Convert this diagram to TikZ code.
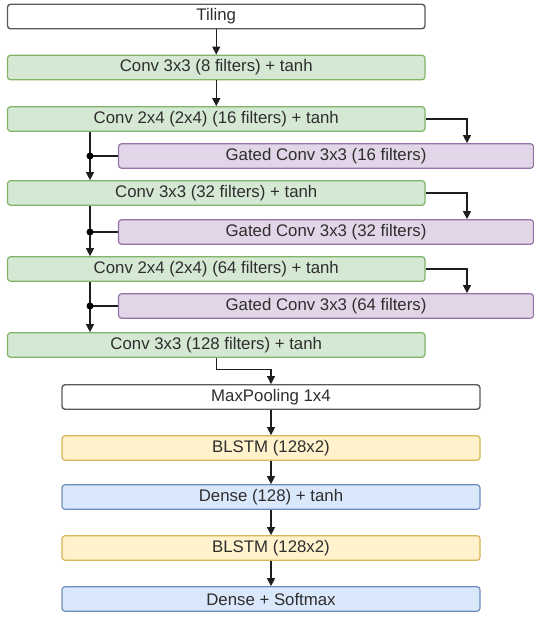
\documentclass[tikz,border=0pt]{standalone}
\usepackage{fontspec}
\setmainfont{Liberation Sans}
\usetikzlibrary{arrows.meta}
\definecolor{txt}{HTML}{2E2E2E}
\definecolor{greenF}{HTML}{D5E8D4}\definecolor{greenD}{HTML}{82B366}
\definecolor{purpF}{HTML}{E1D5E7}\definecolor{purpD}{HTML}{9673A6}
\definecolor{yelF}{HTML}{FFF2CC}\definecolor{yelD}{HTML}{D6B656}
\definecolor{bluF}{HTML}{DAE8FC}\definecolor{bluD}{HTML}{6C8EBF}
\definecolor{edge}{HTML}{1E1E1E}
\definecolor{frame}{HTML}{5A5A5A}
\tikzset{
  layer/.style={rounded corners=3pt, line width=1.2pt, text=txt,
    font=\fontsize{16.8}{19}\selectfont, inner sep=0pt, minimum height=24.5pt},
  plainbox/.style={layer, draw=frame, fill=white, line width=1.4pt},
  convbox/.style={layer, draw=greenD, fill=greenF, minimum width=417.5pt},
  gatedbox/.style={layer, draw=purpD, fill=purpF, minimum width=415pt},
  lstmbox/.style={layer, draw=yelD, fill=yelF, minimum width=418pt},
  densebox/.style={layer, draw=bluD, fill=bluF, minimum width=418pt},
  arr/.style={draw=edge, line width=1.2pt, -{Triangle[length=8pt,width=8pt]}},
  link/.style={draw=edge, line width=1.2pt},
  joint/.style={circle, fill=black, inner sep=0pt, minimum size=7pt},
}
\begin{document}
\begin{tikzpicture}[x=1pt, y=-1pt]
\useasboundingbox (0,0) rectangle (534,617);

% convolutional stack
\node[plainbox, minimum width=417.5pt] (til) at (216.25,16.5) {Tiling};
\node[convbox] (c8)   at (216.25,67.5)  {Conv 3x3 (8 filters) + tanh};
\node[convbox] (c16)  at (216.25,119)   {Conv 2x4 (2x4) (16 filters) + tanh};
\node[gatedbox] (g16) at (326,156)      {Gated Conv 3x3 (16 filters)};
\node[convbox] (c32)  at (216.25,193)   {Conv 3x3 (32 filters) + tanh};
\node[gatedbox] (g32) at (326,232)      {Gated Conv 3x3 (32 filters)};
\node[convbox] (c64)  at (216.25,269)   {Conv 2x4 (2x4) (64 filters) + tanh};
\node[gatedbox] (g64) at (326,306)      {Gated Conv 3x3 (64 filters)};
\node[convbox] (c128) at (216.25,345)   {Conv 3x3 (128 filters) + tanh};

% recurrent head
\node[plainbox, minimum width=418pt] (mp) at (271,397) {MaxPooling 1x4};
\node[lstmbox]  (bl1) at (271,448) {BLSTM (128x2)};
\node[densebox] (d1)  at (271,497) {Dense (128) + tanh};
\node[lstmbox]  (bl2) at (271,548) {BLSTM (128x2)};
\node[densebox] (ds)  at (271,599) {Dense + Softmax};

% vertical rails for the side branches
\coordinate (rx) at (467,0);
\coordinate (lx) at (90,0);

\draw[arr] (til) -- (c8);
\draw[arr] (c8) -- (c16);

% gated branches
\draw[arr] (c16.east) -| (rx |- g16.north);
\draw[arr] (c32.east) -| (rx |- g32.north);
\draw[arr] (c64.east) -| (rx |- g64.north);

% skip paths merging the gated outputs
\draw[arr] (lx |- c16.south) -- (lx |- c32.north);
\draw[link] (lx |- g16.west) -- (g16.west);
\node[joint] (j16) at (lx |- g16.west) {};
\draw[arr] (lx |- c32.south) -- (lx |- c64.north);
\draw[link] (lx |- g32.west) -- (g32.west);
\node[joint] (j32) at (lx |- g32.west) {};
\draw[arr] (lx |- c64.south) -- (lx |- c128.north);
\draw[link] (lx |- g64.west) -- (g64.west);
\node[joint] (j64) at (lx |- g64.west) {};

\draw[arr] (c128.south) -- ++(0,12) -| (mp.north);
\draw[arr] (mp) -- (bl1);
\draw[arr] (bl1) -- (d1);
\draw[arr] (d1) -- (bl2);
\draw[arr] (bl2) -- (ds);
\end{tikzpicture}
\end{document}
